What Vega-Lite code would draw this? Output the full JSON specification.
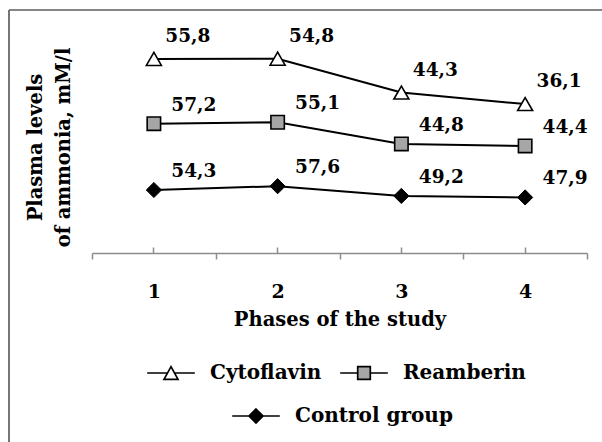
{
  "$schema": "https://vega.github.io/schema/vega-lite/v6.json",
  "width": 593,
  "height": 432,
  "autosize": {"type": "none"},
  "padding": {"left": 9, "top": 10, "right": 0, "bottom": 0},
  "background": "white",
  "config": {
    "font": "DejaVu Serif",
    "view": {"stroke": "#5f5f5f", "strokeWidth": 1.7, "strokeDash": [593, 1025, 432, 0]},
    "locale": {"number": {"decimal": ",", "thousands": " ", "grouping": [3], "currency": ["", ""]}},
    "legend": {
      "title": null, "orient": "none", "direction": "horizontal", "padding": 0,
      "symbolSize": 196, "symbolStrokeColor": "black", "symbolStrokeWidth": 1.7,
      "labelFont": "DejaVu Serif", "labelFontWeight": "bold", "labelFontSize": 20, "labelColor": "black",
      "labelOffset": 29, "labelLimit": 300
    }
  },
  "data": {
    "values": [
      {"phase": 1, "series": "Control group", "ord": 1, "value": 54.3},
      {"phase": 2, "series": "Control group", "ord": 1, "value": 57.6},
      {"phase": 3, "series": "Control group", "ord": 1, "value": 49.2},
      {"phase": 4, "series": "Control group", "ord": 1, "value": 47.9},
      {"phase": 1, "series": "Reamberin", "ord": 2, "value": 57.2},
      {"phase": 2, "series": "Reamberin", "ord": 2, "value": 55.1},
      {"phase": 3, "series": "Reamberin", "ord": 2, "value": 44.8},
      {"phase": 4, "series": "Reamberin", "ord": 2, "value": 44.4},
      {"phase": 1, "series": "Cytoflavin", "ord": 3, "value": 55.8},
      {"phase": 2, "series": "Cytoflavin", "ord": 3, "value": 54.8},
      {"phase": 3, "series": "Cytoflavin", "ord": 3, "value": 44.3},
      {"phase": 4, "series": "Cytoflavin", "ord": 3, "value": 36.1}
    ]
  },
  "transform": [
    {"stack": "value", "groupby": ["phase"], "sort": [{"field": "ord", "order": "ascending"}], "as": ["v0", "v1"]}
  ],
  "encoding": {
    "y": {
      "field": "v1",
      "type": "quantitative",
      "scale": {"domain": [0, 200], "range": [243, 11], "nice": false, "zero": true},
      "axis": {
        "domain": false, "ticks": false, "labels": false, "grid": false,
        "title": ["Plasma levels", "of ammonia, mM/l"],
        "titleFont": "DejaVu Serif", "titleFontWeight": "bold", "titleFontSize": 19.5, "titleColor": "black",
        "titleAngle": -90, "titleAlign": "center", "titleBaseline": "middle", "titleLineHeight": 28,
        "titleX": 26, "titleY": 137
      }
    }
  },
  "layer": [
    {
      "mark": {"type": "line", "color": "black", "strokeWidth": 2},
      "encoding": {
        "x": {
          "field": "phase", "type": "ordinal",
          "scale": {"type": "band", "range": [83, 578], "paddingInner": 0, "paddingOuter": 0},
          "axis": {
            "orient": "bottom", "offset": -189, "tickBand": "extent", "tickSize": 6,
            "tickColor": "#8c8c8c", "tickWidth": 1.5, "domainColor": "#8c8c8c", "domainWidth": 1.5,
            "grid": false, "labelAngle": 0,
            "labelFont": "DejaVu Serif", "labelFontWeight": "bold", "labelFontSize": 19, "labelColor": "black",
            "labelBaseline": "alphabetic", "labelPadding": 38,
            "title": "Phases of the study", "titleFont": "DejaVu Serif", "titleFontWeight": "bold",
            "titleFontSize": 19.5, "titleColor": "black", "titleBaseline": "alphabetic", "titleY": 72
          }
        },
        "detail": {"field": "series"}
      }
    },
    {
      "transform": [{"filter": "datum.series === 'Cytoflavin'"}],
      "mark": {"type": "point", "filled": true, "shape": "triangle-up", "stroke": "black", "strokeWidth": 1.6, "size": 225, "opacity": 1},
      "encoding": {
        "x": {"field": "phase", "type": "ordinal", "axis": null},
        "fill": {
          "field": "series", "type": "nominal",
          "scale": {"domain": ["Cytoflavin"], "range": ["white"]},
          "legend": {
            "legendX": 152, "legendY": 353,
            "symbolType": "M-3.4,0H-0.5M0.5,0H3.4M0,-0.9L1,0.9L-1,0.9Z"
          }
        }
      }
    },
    {
      "transform": [{"filter": "datum.series === 'Reamberin'"}],
      "mark": {"type": "point", "filled": true, "shape": "square", "stroke": "black", "strokeWidth": 1.6, "size": 180, "opacity": 1},
      "encoding": {
        "x": {"field": "phase", "type": "ordinal", "axis": null},
        "fill": {
          "field": "series", "type": "nominal",
          "scale": {"domain": ["Reamberin"], "range": ["#a6a6a6"]},
          "legend": {
            "legendX": 345, "legendY": 353,
            "symbolType": "M-3.4,0H-0.9M0.9,0H3.4M-0.9,-0.9H0.9V0.9H-0.9Z"
          }
        }
      }
    },
    {
      "transform": [{"filter": "datum.series === 'Control group'"}],
      "mark": {"type": "point", "filled": true, "shape": "diamond", "stroke": "black", "strokeWidth": 1, "size": 230, "opacity": 1},
      "encoding": {
        "x": {"field": "phase", "type": "ordinal", "axis": null},
        "fill": {
          "field": "series", "type": "nominal",
          "scale": {"domain": ["Control group"], "range": ["black"]},
          "legend": {
            "legendX": 237, "legendY": 396,
            "symbolType": "M-3.4,0H-1M1,0H3.4M0,-1L1,0L0,1L-1,0Z"
          }
        }
      }
    },
    {
      "transform": [{"filter": "datum.series === 'Cytoflavin'"}],
      "mark": {"type": "text", "dx": 34, "dy": -23, "font": "DejaVu Serif", "fontWeight": "bold", "fontSize": 18.5, "color": "black"},
      "encoding": {
        "x": {
          "field": "phase", "type": "ordinal",
          "axis": {
            "orient": "bottom", "offset": -189, "domain": false, "labels": false, "title": null,
            "ticks": true, "tickSize": -6, "tickColor": "#8c8c8c", "tickWidth": 1.5, "grid": false
          }
        },
        "text": {"field": "value", "type": "quantitative", "format": ".1f"}
      }
    },
    {
      "transform": [{"filter": "datum.series !== 'Cytoflavin'"}],
      "mark": {"type": "text", "dx": 40, "dy": -19, "font": "DejaVu Serif", "fontWeight": "bold", "fontSize": 18.5, "color": "black"},
      "encoding": {
        "x": {"field": "phase", "type": "ordinal", "axis": null},
        "text": {"field": "value", "type": "quantitative", "format": ".1f"}
      }
    }
  ],
  "resolve": {
    "scale": {"fill": "independent"},
    "axis": {"x": "independent"}
  }
}
